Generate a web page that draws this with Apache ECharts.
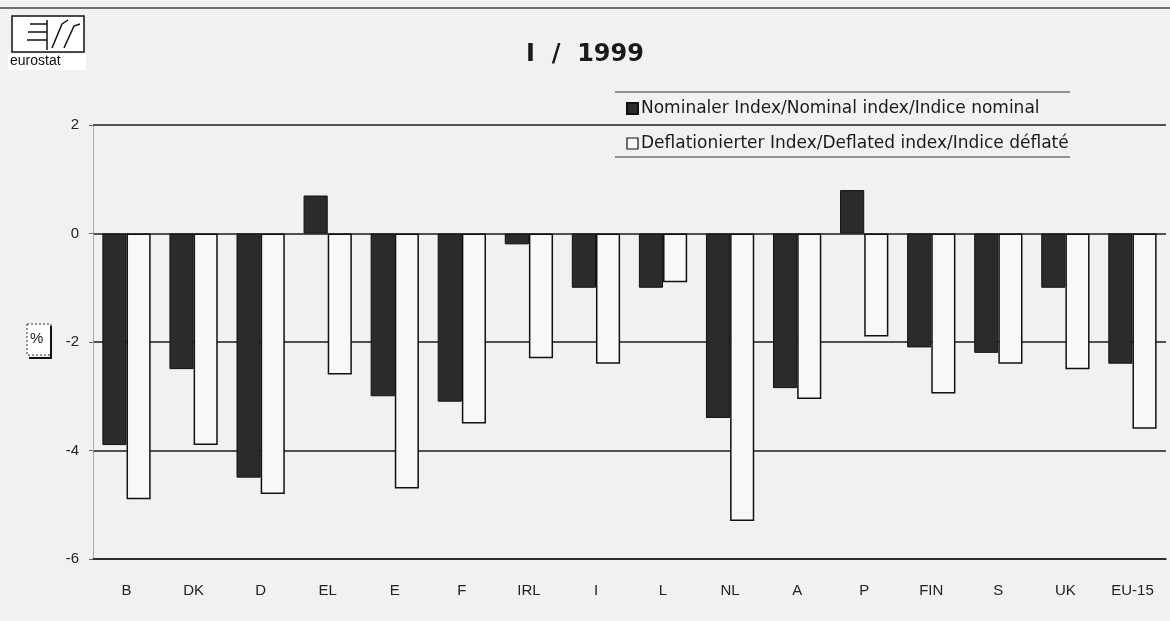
<!DOCTYPE html>
<html>
<head>
<meta charset="utf-8">
<script src="https://cdn.jsdelivr.net/npm/echarts@6/dist/echarts.min.js"></script>
<style>
  html, body { margin: 0; padding: 0; background: #f1f1f1; }
  #main { width: 1170px; height: 621px; }
</style>
</head>
<body>
<div id="main"></div>
<script>
// Länder
var countries = ['B', 'DK', 'D', 'EL', 'E', 'F', 'IRL', 'I', 'L', 'NL', 'A', 'P', 'FIN', 'S', 'UK', 'EU-15'];
// Nominaler Index
var nominal = [-3.9, -2.5, -4.5, 0.7, -3.0, -3.1, -0.2, -1.0, -1.0, -3.4, -2.85, 0.8, -2.1, -2.2, -1.0, -2.4];
// Deflationierter Index
var deflated = [-4.9, -3.9, -4.8, -2.6, -4.7, -3.5, -2.3, -2.4, -0.9, -5.3, -3.05, -1.9, -2.95, -2.4, -2.5, -3.6];
var yTicks = [-6, -4, -2, 0, 2];

var names = ['Nominaler Index/Nominal index/Indice nominal', 'Deflationierter Index/Deflated index/Indice déflaté'];
var font = 'Liberation Sans, Arial, sans-serif';

var chart = echarts.init(document.getElementById('main'));

var option = {
  backgroundColor: '#f1f1f1',
  animation: false,
  title: {
    text: 'I  /  1999',
    left: 'center',
    top: 38,
    textStyle: { fontFamily: 'DejaVu Sans, sans-serif', fontSize: 24, fontWeight: 'bold', color: '#1a1a1a' }
  },
  legend: {
    orient: 'vertical',
    left: 621,
    top: 95,
    itemGap: 18,
    itemWidth: 11,
    itemHeight: 11,
    icon: 'rect',
    textStyle: { fontFamily: 'DejaVu Sans, sans-serif', fontSize: 17, color: '#1a1a1a', padding: [0, 0, 0, -2] },
    data: [
      { name: names[0], itemStyle: { color: '#2b2b2b' } },
      { name: names[1], itemStyle: { color: '#f8f8f8', borderColor: '#111', borderWidth: 1.2 } }
    ]
  },
  grid: { left: 93, right: 4, top: 125, bottom: 62 },
  xAxis: {
    type: 'category',
    data: countries,
    axisLine: { onZero: false, lineStyle: { color: '#222', width: 1.5 } },
    axisTick: { show: false },
    axisLabel: { margin: 24, fontFamily: font, fontSize: 15, color: '#222' }
  },
  yAxis: {
    type: 'value',
    min: -6,
    max: 2,
    interval: 2,
    axisLine: { show: true, lineStyle: { color: '#999', type: 'dotted' } },
    axisTick: { show: true, length: 4, lineStyle: { color: '#666' } },
    axisLabel: {
      margin: 14, fontFamily: font, fontSize: 15, color: '#222',
      formatter: function (v) { return yTicks.indexOf(v) >= 0 ? String(v) : ''; }
    },
    splitLine: { lineStyle: { color: '#1a1a1a', width: 1.5 } }
  },
  series: [
    {
      name: names[0],
      type: 'bar',
      data: nominal,
      barGap: '0%',
      barCategoryGap: '28%',
      itemStyle: { color: '#2b2b2b', borderColor: '#111', borderWidth: 1 }
    },
    {
      name: names[1],
      type: 'bar',
      data: deflated,
      itemStyle: { color: '#f8f8f8', borderColor: '#111', borderWidth: 1.5 }
    }
  ],
  graphic: [
    // obere Rahmenlinie
    { type: 'line', shape: { x1: 0, y1: 8, x2: 1170, y2: 8 }, style: { stroke: '#444', lineWidth: 1.5 } },
    // Legendenrahmen
    { type: 'line', shape: { x1: 615, y1: 92, x2: 1070, y2: 92 }, style: { stroke: '#333', lineWidth: 1.2 } },
    { type: 'line', shape: { x1: 615, y1: 157, x2: 1070, y2: 157 }, style: { stroke: '#333', lineWidth: 1.2 } },
    // eurostat Logo
    { type: 'rect', shape: { x: 12, y: 16, width: 72, height: 36 }, style: { fill: '#fff', stroke: '#111', lineWidth: 1.5 } },
    { type: 'polyline', shape: { points: [[30, 24], [47, 24]] }, style: { stroke: '#111', lineWidth: 1.5 } },
    { type: 'polyline', shape: { points: [[28, 32], [47, 32]] }, style: { stroke: '#111', lineWidth: 1.5 } },
    { type: 'polyline', shape: { points: [[27, 40], [47, 40]] }, style: { stroke: '#111', lineWidth: 1.5 } },
    { type: 'polyline', shape: { points: [[47, 20], [47, 50]] }, style: { stroke: '#111', lineWidth: 1.5 } },
    { type: 'polyline', shape: { points: [[52, 48], [62, 24], [68, 20]] }, style: { stroke: '#111', lineWidth: 1.5, fill: null } },
    { type: 'polyline', shape: { points: [[64, 48], [74, 26], [80, 24]] }, style: { stroke: '#111', lineWidth: 1.5, fill: null } },
    { type: 'rect', shape: { x: 8, y: 54, width: 78, height: 16 }, style: { fill: '#fff' } },
    { type: 'text', left: 10, top: 54, style: { text: 'eurostat', font: '14px ' + font, fill: '#111' } },
    // Einheit %
    { type: 'rect', shape: { x: 27, y: 324, width: 24, height: 31 }, style: { fill: '#fff', stroke: '#333', lineWidth: 1, lineDash: [2, 2] } },
    { type: 'polyline', shape: { points: [[51, 326], [51, 358], [29, 358]] }, style: { stroke: '#111', lineWidth: 2, fill: null } },
    { type: 'text', left: 30, top: 331, style: { text: '%', font: '15px ' + font, fill: '#222' } }
  ]
};

chart.setOption(option);
</script>
</body>
</html>
